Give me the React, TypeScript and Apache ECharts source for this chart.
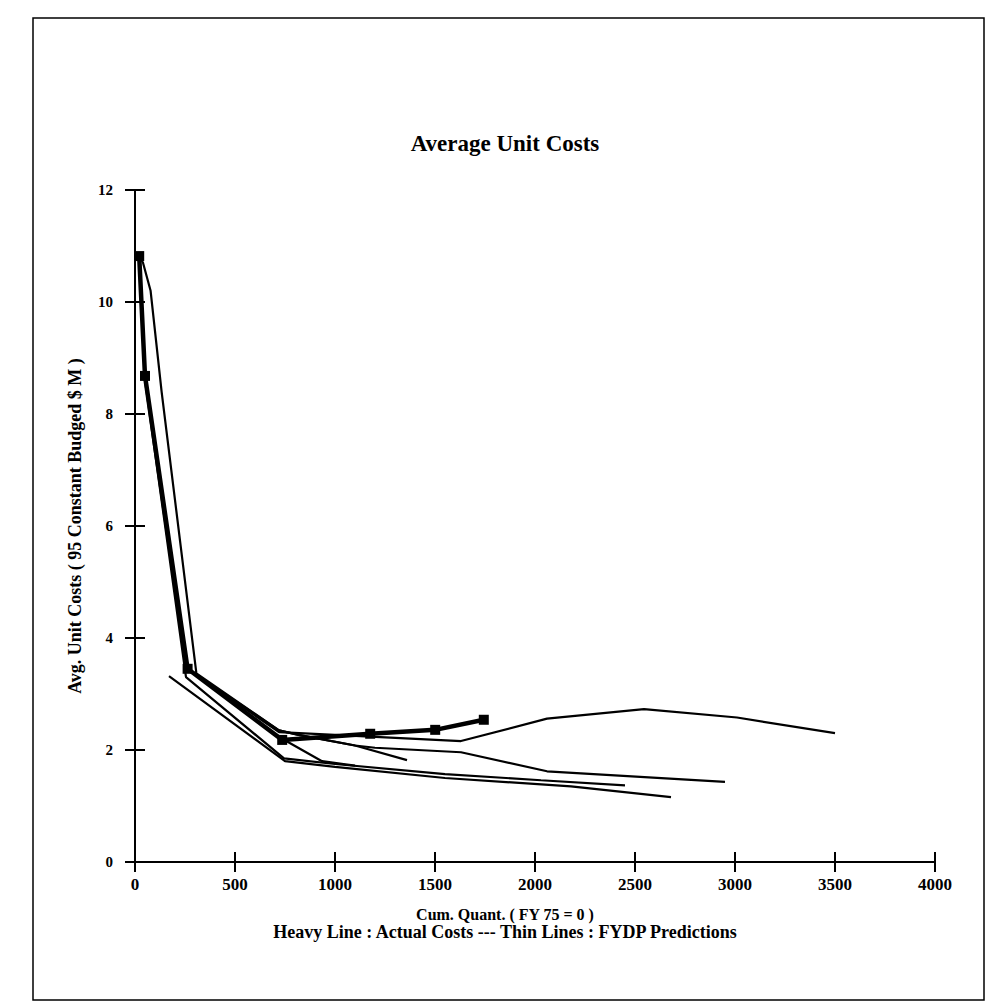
import React, { useEffect, useRef } from "react";
import * as echarts from "echarts";

// Tick values
const xTickValues = [0, 500, 1000, 1500, 2000, 2500, 3000, 3500, 4000];
const yTickValues = [0, 2, 4, 6, 8, 10, 12];

// Heavy line: actual costs
const actualCosts: [number, number][] = [
  [21, 10.82], [50, 8.68], [263, 3.45], [736, 2.18], [1176, 2.29], [1501, 2.36], [1744, 2.54],
];

// Thin lines: FYDP predictions
const fydpA: [number, number][] = [
  [21, 10.82], [40, 10.7], [78, 10.2], [133, 8.4], [307, 3.37], [720, 2.35], [818, 2.27], [1100, 2.08], [1360, 1.82],
];
const fydpB: [number, number][] = [
  [300, 3.36], [720, 2.35], [818, 2.27], [1100, 2.08], [1200, 2.04], [1630, 1.96], [2060, 1.62], [2950, 1.43],
];
const fydpC: [number, number][] = [
  [290, 3.38], [720, 2.32], [1176, 2.24], [1630, 2.16], [2060, 2.56], [2545, 2.73], [3010, 2.58], [3500, 2.3],
];
const fydpD: [number, number][] = [
  [21, 10.82], [50, 8.6], [255, 3.3], [745, 1.85], [1000, 1.75], [1550, 1.57], [2030, 1.46], [2450, 1.37],
];
const fydpE: [number, number][] = [
  [170, 3.32], [750, 1.8], [1000, 1.7], [1550, 1.5], [2180, 1.35], [2680, 1.16],
];
const fydpF: [number, number][] = [
  [736, 2.2], [935, 1.8], [1100, 1.72],
];

const thinSeries = [fydpA, fydpB, fydpC, fydpD, fydpE, fydpF];

const FONT = "Liberation Serif";

export default function App() {
  const ref = useRef<HTMLDivElement>(null);
  useEffect(() => {
    if (!ref.current) return;
    const chart = echarts.init(ref.current, undefined, { renderer: "svg" });
    const labelStyle = { fontFamily: FONT, fontWeight: "bold", color: "#000" };
    const baseX = {
      type: "value",
      min: xTickValues[0],
      max: xTickValues[xTickValues.length - 1],
      interval: 500,
      splitLine: { show: false },
      axisLine: { show: true, lineStyle: { color: "#000", width: 2 } },
    };
    const baseY = {
      type: "value",
      min: yTickValues[0],
      max: yTickValues[yTickValues.length - 1],
      interval: 2,
      splitLine: { show: false },
      axisLine: { show: true, lineStyle: { color: "#000", width: 2 } },
    };
    chart.setOption({
      animation: false,
      backgroundColor: "#fff",
      grid: { left: 135, right: 53, top: 190, bottom: 146 },
      xAxis: [
        {
          ...baseX,
          axisTick: { show: true, inside: false, length: 10, lineStyle: { color: "#000", width: 2 } },
          axisLabel: { ...labelStyle, fontSize: 17, margin: 14, formatter: (v: number) => String(v) },
        },
        {
          ...baseX,
          position: "bottom",
          axisTick: { show: true, inside: true, length: 10, lineStyle: { color: "#000", width: 2 } },
          axisLabel: { show: false },
        },
      ],
      yAxis: [
        {
          ...baseY,
          name: "Avg. Unit Costs ( 95 Constant Budged $ M )",
          nameLocation: "middle",
          nameGap: 51,
          nameTextStyle: { fontFamily: FONT, fontWeight: "bold", fontSize: 18, color: "#000" },
          axisTick: { show: true, inside: false, length: 10, lineStyle: { color: "#000", width: 2 } },
          axisLabel: { ...labelStyle, fontSize: 15, margin: 22, formatter: (v: number) => String(v) },
        },
        {
          ...baseY,
          position: "left",
          axisTick: { show: true, inside: true, length: 10, lineStyle: { color: "#000", width: 2 } },
          axisLabel: { show: false },
        },
      ],
      graphic: [
        {
          type: "rect",
          shape: { x: 33, y: 18, width: 951, height: 982 },
          style: { fill: "none", stroke: "#000", lineWidth: 1.5 },
          silent: true,
        },
        {
          type: "text",
          x: 505,
          y: 143,
          style: {
            text: "Average Unit Costs",
            textAlign: "center",
            textVerticalAlign: "middle",
            fontFamily: FONT,
            fontWeight: "bold",
            fontSize: 23,
            fill: "#000",
          },
        },
        {
          type: "text",
          x: 505,
          y: 914,
          style: {
            text: "Cum. Quant. ( FY 75 = 0 )",
            textAlign: "center",
            textVerticalAlign: "middle",
            fontFamily: FONT,
            fontWeight: "bold",
            fontSize: 16,
            fill: "#000",
          },
        },
        {
          type: "text",
          x: 505,
          y: 932,
          style: {
            text: "Heavy Line : Actual Costs --- Thin Lines : FYDP Predictions",
            textAlign: "center",
            textVerticalAlign: "middle",
            fontFamily: FONT,
            fontWeight: "bold",
            fontSize: 18,
            fill: "#000",
          },
        },
      ],
      series: [
        ...thinSeries.map((d, i) => ({
          name: "FYDP " + (i + 1),
          type: "line",
          xAxisIndex: 0,
          yAxisIndex: 0,
          data: d,
          symbol: "none",
          lineStyle: { color: "#000", width: 2.2 },
          z: 2,
        })),
        {
          name: "Actual",
          type: "line",
          xAxisIndex: 0,
          yAxisIndex: 0,
          data: actualCosts,
          symbol: "rect",
          symbolSize: 10,
          itemStyle: { color: "#000" },
          lineStyle: { color: "#000", width: 4.5 },
          z: 3,
        },
      ],
    });
    return () => chart.dispose();
  }, []);
  return (
    <div
      ref={ref}
      style={{ position: "fixed", left: 0, top: 0, width: 988, height: 1008, background: "#fff" }}
    />
  );
}
